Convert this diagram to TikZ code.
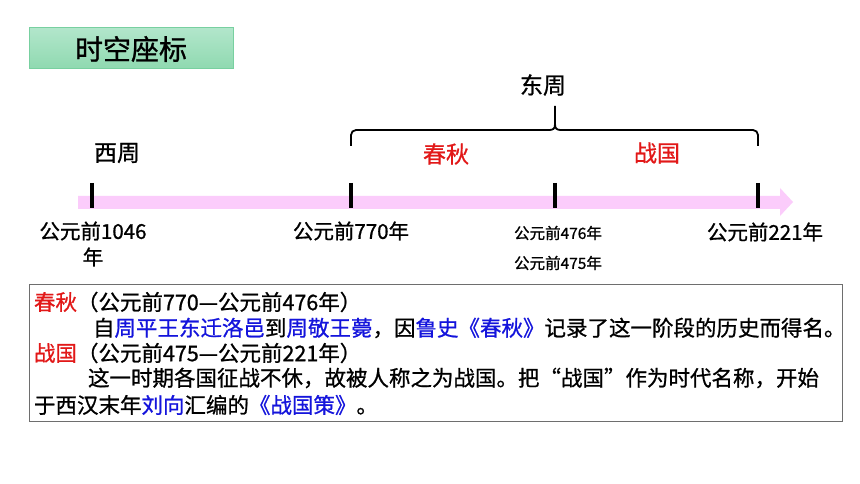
\documentclass[tikz,border=0pt]{standalone}
\usepackage{fontspec}
\setmainfont{Noto Sans CJK SC}[FakeBold=0.9]
\usetikzlibrary{shapes.arrows}
\definecolor{hdtop}{RGB}{178,230,203}
\definecolor{hdbot}{RGB}{143,217,176}
\definecolor{hdline}{RGB}{120,208,160}
\definecolor{bandpink}{RGB}{251,204,251}
\definecolor{redtxt}{RGB}{226,24,24}
\definecolor{bluetxt}{RGB}{20,20,220}
\definecolor{boxline}{RGB}{110,110,110}
\begin{document}
\begin{tikzpicture}[x=1pt,y=-1pt,
  every node/.style={inner sep=0pt, outer sep=0pt},
  tick/.style={line width=3.2pt},
  lbl/.style={font=\fontsize{23}{26}\selectfont},
  yr/.style={font=\fontsize{20.5}{22}\selectfont},
  yrs/.style={font=\fontsize{15.5}{18}\selectfont},
  txt/.style={font=\fontsize{21.5}{24}\selectfont, anchor=west},
  rd/.style={text=redtxt},
  bl/.style={text=bluetxt}]
\useasboundingbox (0,0) rectangle (860,484);
\fill[white] (0,0) rectangle (860,484);
% title
\shade[top color=hdtop, bottom color=hdbot, draw=hdline, line width=1pt] (29,28) rectangle (233,69);
\node[font=\fontsize{28}{30}\selectfont] (title) at (131,49) {时空座标};
% timeline band with arrow
\fill[bandpink] (78,196) -- (780,196) -- (780,188) -- (793,202) -- (780,216) -- (780,209) -- (78,209) -- cycle;
\coordinate (t1) at (92,183);
\coordinate (t2) at (351,183);
\coordinate (t3) at (555,183);
\coordinate (t4) at (758,183);
\foreach \t in {t1,t2,t3,t4}{\draw[tick] (\t) -- ++(0,25);}
% brace
\coordinate (bl) at (351,146);
\coordinate (br) at (758,146);
\coordinate (btip) at (555,106);
\draw[line width=1.8pt, rounded corners=5pt] (bl) -- (351,130) -- (549,130);
\draw[line width=1.8pt, rounded corners=5pt] (br) -- (758,130) -- (561,130);
\draw[line width=1.8pt] (549,130) .. controls (553,130) and (555,129) .. (555,124) -- (btip);
\draw[line width=1.8pt] (561,130) .. controls (557,130) and (555,129) .. (555,124);
% period labels
\node[lbl] (dz) at (543,85) {东周};
\node[lbl] (xz) at (117,153) {西周};
\node[lbl, rd] (cq) at (446,154) {春秋};
\node[lbl, rd] (zg) at (657,153) {战国};
% year labels
\node[yr] (y1) at (93,231) {公元前1046};
\node[yr] (y1b) at (93,257) {年};
\node[yr] (y2) at (351,231) {公元前770年};
\node[yr] (y4) at (765,232) {公元前221年};
\node[yrs] (y3a) at (558,233) {公元前476年};
\node[yrs] (y3b) at (558,263) {公元前475年};
% text box
\draw[boxline, line width=1pt] (29,284) rectangle (842,421);
\node[txt] (l1) at (34,302) {\textcolor{redtxt}{春秋}（公元前770—公元前476年）};
\node[txt] (l2) at (93,328) {自\textcolor{bluetxt}{周平王东迁洛邑}到\textcolor{bluetxt}{周敬王薨}，因\textcolor{bluetxt}{鲁史《春秋》}记录了这一阶段的历史而得名。};
\node[txt] (l3) at (34,353) {\textcolor{redtxt}{战国}（公元前475—公元前221年）};
\node[txt] (l4) at (88,378) {这一时期各国征战不休，故被人称之为战国。把“战国”作为时代名称，开始};
\node[txt] (l5) at (34,405) {于西汉末年\textcolor{bluetxt}{刘向}汇编的\textcolor{bluetxt}{《战国策》}。};
\end{tikzpicture}
\end{document}
